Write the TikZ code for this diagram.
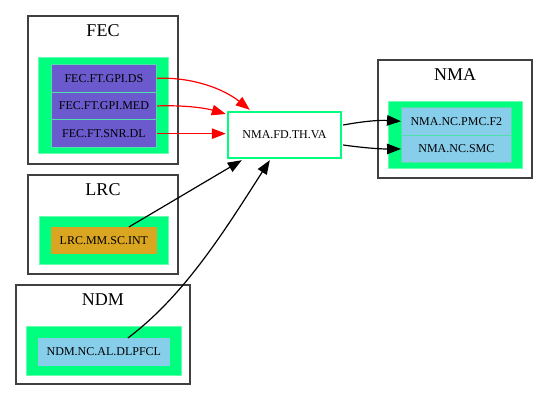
\documentclass[tikz,border=0pt]{standalone}
\usepackage{fontspec}
\setmainfont{Liberation Serif}
\usetikzlibrary{arrows.meta,calc}
\definecolor{sgreen}{HTML}{00FF7F}
\definecolor{sblue}{HTML}{6A5ACD}
\definecolor{gold}{HTML}{DAA520}
\definecolor{skyb}{HTML}{87CEEB}
\definecolor{seam}{RGB}{80,225,170}
\tikzset{
  cluster/.style={draw=black!75, line width=1.1pt, fill=white},
  clabel/.style={font=\fontsize{18}{20}\selectfont, inner sep=0pt},
  greenbox/.style={fill=sgreen, draw=sgreen!60, line width=0.6pt},
  leaf/.style={draw=seam, line width=0.8pt, minimum height=27.7pt, inner sep=0pt, font=\fontsize{12}{14}\selectfont, anchor=north west},
  arr/.style={-{Triangle[length=14pt,width=10.5pt]}, line width=1.2pt},
}
\begin{document}
\begin{tikzpicture}[x=1pt,y=-1pt]
\useasboundingbox (0,0) rectangle (548,401);
% clusters
\draw[cluster] (28,16) rectangle (178,164);
\node[clabel] (lfec) at (103,31) {FEC};
\draw[greenbox] (38,57) rectangle (168,153);
\node[leaf, fill=sblue, minimum width=105pt] (ds) at (51,64) {FEC.FT.GPI.DS};
\node[leaf, fill=sblue, minimum width=105pt] (med) at (51,91.7) {FEC.FT.GPI.MED};
\node[leaf, fill=sblue, minimum width=105pt] (snr) at (51,119.4) {FEC.FT.SNR.DL};

\draw[cluster] (28,175) rectangle (178,274);
\node[clabel] (llrc) at (103,190) {LRC};
\draw[greenbox] (39,216) rectangle (168,264);
\node[leaf, draw=gold, fill=gold, minimum width=105pt, minimum height=26pt] (lrc) at (51,227) {LRC.MM.SC.INT};

\draw[cluster] (16,285) rectangle (190,384);
\node[clabel] (lndm) at (103,300) {NDM};
\draw[greenbox] (26,326) rectangle (181,375);
\node[leaf, draw=skyb, fill=skyb, minimum width=131pt, minimum height=27pt] (ndm) at (38,338) {NDM.NC.AL.DLPFCL};

\draw[cluster] (378,60) rectangle (532,178);
\node[clabel] (lnma) at (455,75) {NMA};
\draw[greenbox] (388,101) rectangle (522,168);
\node[leaf, fill=skyb, minimum width=110pt] (pmc) at (401,107) {NMA.NC.PMC.F2};
\node[leaf, fill=skyb, minimum width=110pt] (smc) at (401,134.7) {NMA.NC.SMC};

% center node
\node[draw=sgreen, line width=2.4pt, fill=white, minimum width=113pt, minimum height=46pt, inner sep=0pt, font=\fontsize{12}{14}\selectfont] (va) at (284.5,135) {NMA.FD.TH.VA};

% coordinates for arrow tips
\coordinate (t1) at ($(va.north west)+(23,-1)$);
\coordinate (t2) at ($(va.west)+(-1,-21)$);
\coordinate (t4) at ($(va.south west)+(15,1)$);
\coordinate (t5) at ($(va.south west)+(43,1)$);
\coordinate (s4) at ($(lrc.north)+(25,0)$);
\coordinate (s5) at ($(ndm.north)+(24,0)$);
\coordinate (o1) at ($(va.east)+(1,-10)$);
\coordinate (o2) at ($(va.east)+(1,10)$);

\draw[arr, red] (ds.east) .. controls (195,77) and (225,90) .. (t1);
\draw[arr, red] (med.east) .. controls (185,105) and (205,108) .. (t2);
\draw[arr, red] (snr.east) -- ($(snr.east -| va.west)+(-1,0)$);
\draw[arr] (s4) -- (t4);
\draw[arr] (s5) .. controls (185,295) and (225,230) .. (t5);
\draw[arr] (o1) .. controls (365,121) and (380,120) .. (pmc.west);
\draw[arr] (o2) .. controls (365,148) and (380,149) .. (smc.west);
\end{tikzpicture}
\end{document}
